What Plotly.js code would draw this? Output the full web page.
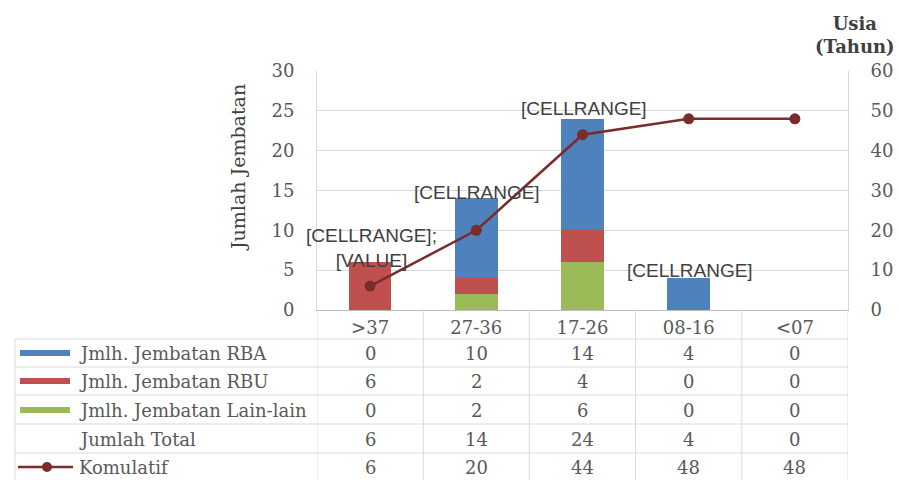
<!DOCTYPE html>
<html>
<head>
<meta charset="utf-8">
<script src="https://cdn.plot.ly/plotly-3.0.1.min.js"></script>
<style>
  html, body { margin: 0; padding: 0; background: #ffffff; }
  #chart { width: 899px; height: 480px; }
</style>
</head>
<body>
<div id="chart"></div>
<script>
// Age groups of the bridges (years)
const categories = ['>37', '27-36', '17-26', '08-16', '<07'];

// Bridge counts per type
const rba = [0, 10, 14, 4, 0];
const rbu = [6, 2, 4, 0, 0];
const lainLain = [0, 2, 6, 0, 0];

// Cumulative count (right axis)
const kumulatif = [6, 20, 44, 48, 48];

// Data-table row captions
const rowLabels = ['Jmlh. Jembatan RBA', 'Jmlh. Jembatan RBU', 'Jmlh. Jembatan Lain-lain', 'Jumlah Total', 'Komulatif'];

// Data labels shown above each stacked column
const barLabels = ['[CELLRANGE];<br>[VALUE]', '[CELLRANGE]', '[CELLRANGE]', '[CELLRANGE]', ''];

const totals = categories.map((_, i) => rba[i] + rbu[i] + lainLain[i]);
const tableRows = [rba, rbu, lainLain, totals, kumulatif];

const COL_BLUE = '#4f81bd';
const COL_RED = '#c0504d';
const COL_GREEN = '#9bbb59';
const COL_LINE = '#7a2b2a';
const GRID = '#d9d9d9';
const SERIF = 'DejaVu Serif, Liberation Serif, serif';
const SANS = 'Liberation Sans, Arial, sans-serif';
const TXT = '#595959';

// pixel helpers for the area under the plot (plot spans x 317..848, y 71..310)
const px = x => (x - 317) / 531;
const py = y => (310 - y) / 239;

const rowCenters = [353, 381, 410, 439, 467].map(py);
const rowLines = [339, 367, 395, 424, 453].map(py);
const tableBottom = py(480);

// vertical nudges of the column labels (pixels)
const labelShift = [-11, -7, -2, -5, 0];

const traces = [
  { type: 'bar', x: categories, y: lainLain, name: rowLabels[2], marker: { color: COL_GREEN }, hoverinfo: 'y' },
  { type: 'bar', x: categories, y: rbu, name: rowLabels[1], marker: { color: COL_RED }, hoverinfo: 'y' },
  { type: 'bar', x: categories, y: rba, name: rowLabels[0], marker: { color: COL_BLUE }, hoverinfo: 'y' },
  {
    type: 'scatter', mode: 'lines+markers', x: categories, y: kumulatif, yaxis: 'y2',
    name: rowLabels[4], line: { color: COL_LINE, width: 2.5 },
    marker: { color: COL_LINE, size: 11 }, hoverinfo: 'y'
  }
];

const shapes = [];
const annotations = [];

// table grid: horizontal rules
rowLines.forEach(y => {
  shapes.push({ type: 'line', xref: 'paper', yref: 'paper', x0: px(15), x1: 1, y0: y, y1: y,
    line: { color: GRID, width: 1 } });
});
// table grid: vertical rules between categories
for (let i = 0; i <= categories.length; i++) {
  shapes.push({ type: 'line', xref: 'x', yref: 'paper', x0: i - 0.5, x1: i - 0.5, y0: 0, y1: tableBottom,
    line: { color: GRID, width: 1 } });
}
shapes.push({ type: 'line', xref: 'paper', yref: 'paper', x0: px(15), x1: px(15), y0: rowLines[0], y1: tableBottom,
  line: { color: GRID, width: 1 } });

// legend keys in the caption column
const keyColors = [COL_BLUE, COL_RED, COL_GREEN];
keyColors.forEach((c, k) => {
  shapes.push({ type: 'rect', xref: 'paper', yref: 'paper', x0: px(20), x1: px(70),
    y0: rowCenters[k] - 3 / 239, y1: rowCenters[k] + 3 / 239, fillcolor: c, line: { width: 0 } });
});
shapes.push({ type: 'line', xref: 'paper', yref: 'paper', x0: px(18), x1: px(73), y0: rowCenters[4], y1: rowCenters[4],
  line: { color: COL_LINE, width: 2.5 } });
shapes.push({ type: 'circle', xref: 'paper', yref: 'paper', x0: px(42), x1: px(52),
  y0: rowCenters[4] - 5 / 239, y1: rowCenters[4] + 5 / 239, fillcolor: COL_LINE, line: { width: 0 } });

// row captions
rowLabels.forEach((t, k) => {
  annotations.push({ xref: 'paper', yref: 'paper', x: px(77), y: rowCenters[k], xanchor: 'left', yanchor: 'middle',
    text: t, showarrow: false, font: { family: SERIF, size: 18, color: TXT } });
});

// table values
tableRows.forEach((row, k) => {
  row.forEach((v, i) => {
    annotations.push({ xref: 'x', yref: 'paper', x: i, y: rowCenters[k], xanchor: 'center', yanchor: 'middle',
      text: String(v), showarrow: false, font: { family: SERIF, size: 18, color: TXT } });
  });
});

// column data labels
barLabels.forEach((t, i) => {
  if (!t) return;
  annotations.push({ xref: 'x', yref: 'y', x: i, y: totals[i], xanchor: 'center', yanchor: 'bottom',
    xshift: 1, yshift: labelShift[i],
    text: t, showarrow: false, font: { family: SANS, size: 19, color: '#404040' } });
});

// axis titles
annotations.push({ xref: 'paper', yref: 'paper', x: px(238), y: py(168), xanchor: 'center', yanchor: 'middle',
  textangle: -90, text: 'Jumlah Jembatan', showarrow: false, font: { family: SERIF, size: 19, color: '#404040' } });
annotations.push({ xref: 'paper', yref: 'paper', x: px(855), y: py(35), xanchor: 'center', yanchor: 'middle',
  text: '<b>Usia</b><br><b>(Tahun)</b>', showarrow: false, font: { family: SERIF, size: 18, color: '#404040' } });

const layout = {
  width: 899, height: 480,
  margin: { l: 317, r: 51, t: 71, b: 170, pad: 0 },
  paper_bgcolor: '#ffffff', plot_bgcolor: '#ffffff',
  barmode: 'stack', bargap: 0.6,
  showlegend: false,
  font: { family: SERIF, size: 17, color: TXT },
  xaxis: {
    type: 'category', categoryorder: 'array', categoryarray: categories, range: [-0.5, 4.5],
    showgrid: false, zeroline: false, showline: true, linecolor: '#bfbfbf', linewidth: 1,
    ticks: '', tickfont: { family: SERIF, size: 18, color: TXT }, ticklabelstandoff: 1
  },
  yaxis: {
    range: [0, 30], dtick: 5, tick0: 0, showgrid: true, gridcolor: GRID, gridwidth: 1,
    zeroline: false, showline: true, linecolor: GRID, ticks: '',
    tickfont: { family: SERIF, size: 18, color: TXT }, ticklabelstandoff: 18
  },
  yaxis2: {
    range: [0, 60], dtick: 10, tick0: 0, overlaying: 'y', side: 'right', showgrid: false,
    zeroline: false, showline: true, linecolor: GRID, ticks: '',
    tickfont: { family: SERIF, size: 18, color: TXT }, ticklabelstandoff: 18
  },
  shapes: shapes,
  annotations: annotations
};

Plotly.newPlot('chart', traces, layout, { displayModeBar: false, staticPlot: true });
</script>
</body>
</html>
